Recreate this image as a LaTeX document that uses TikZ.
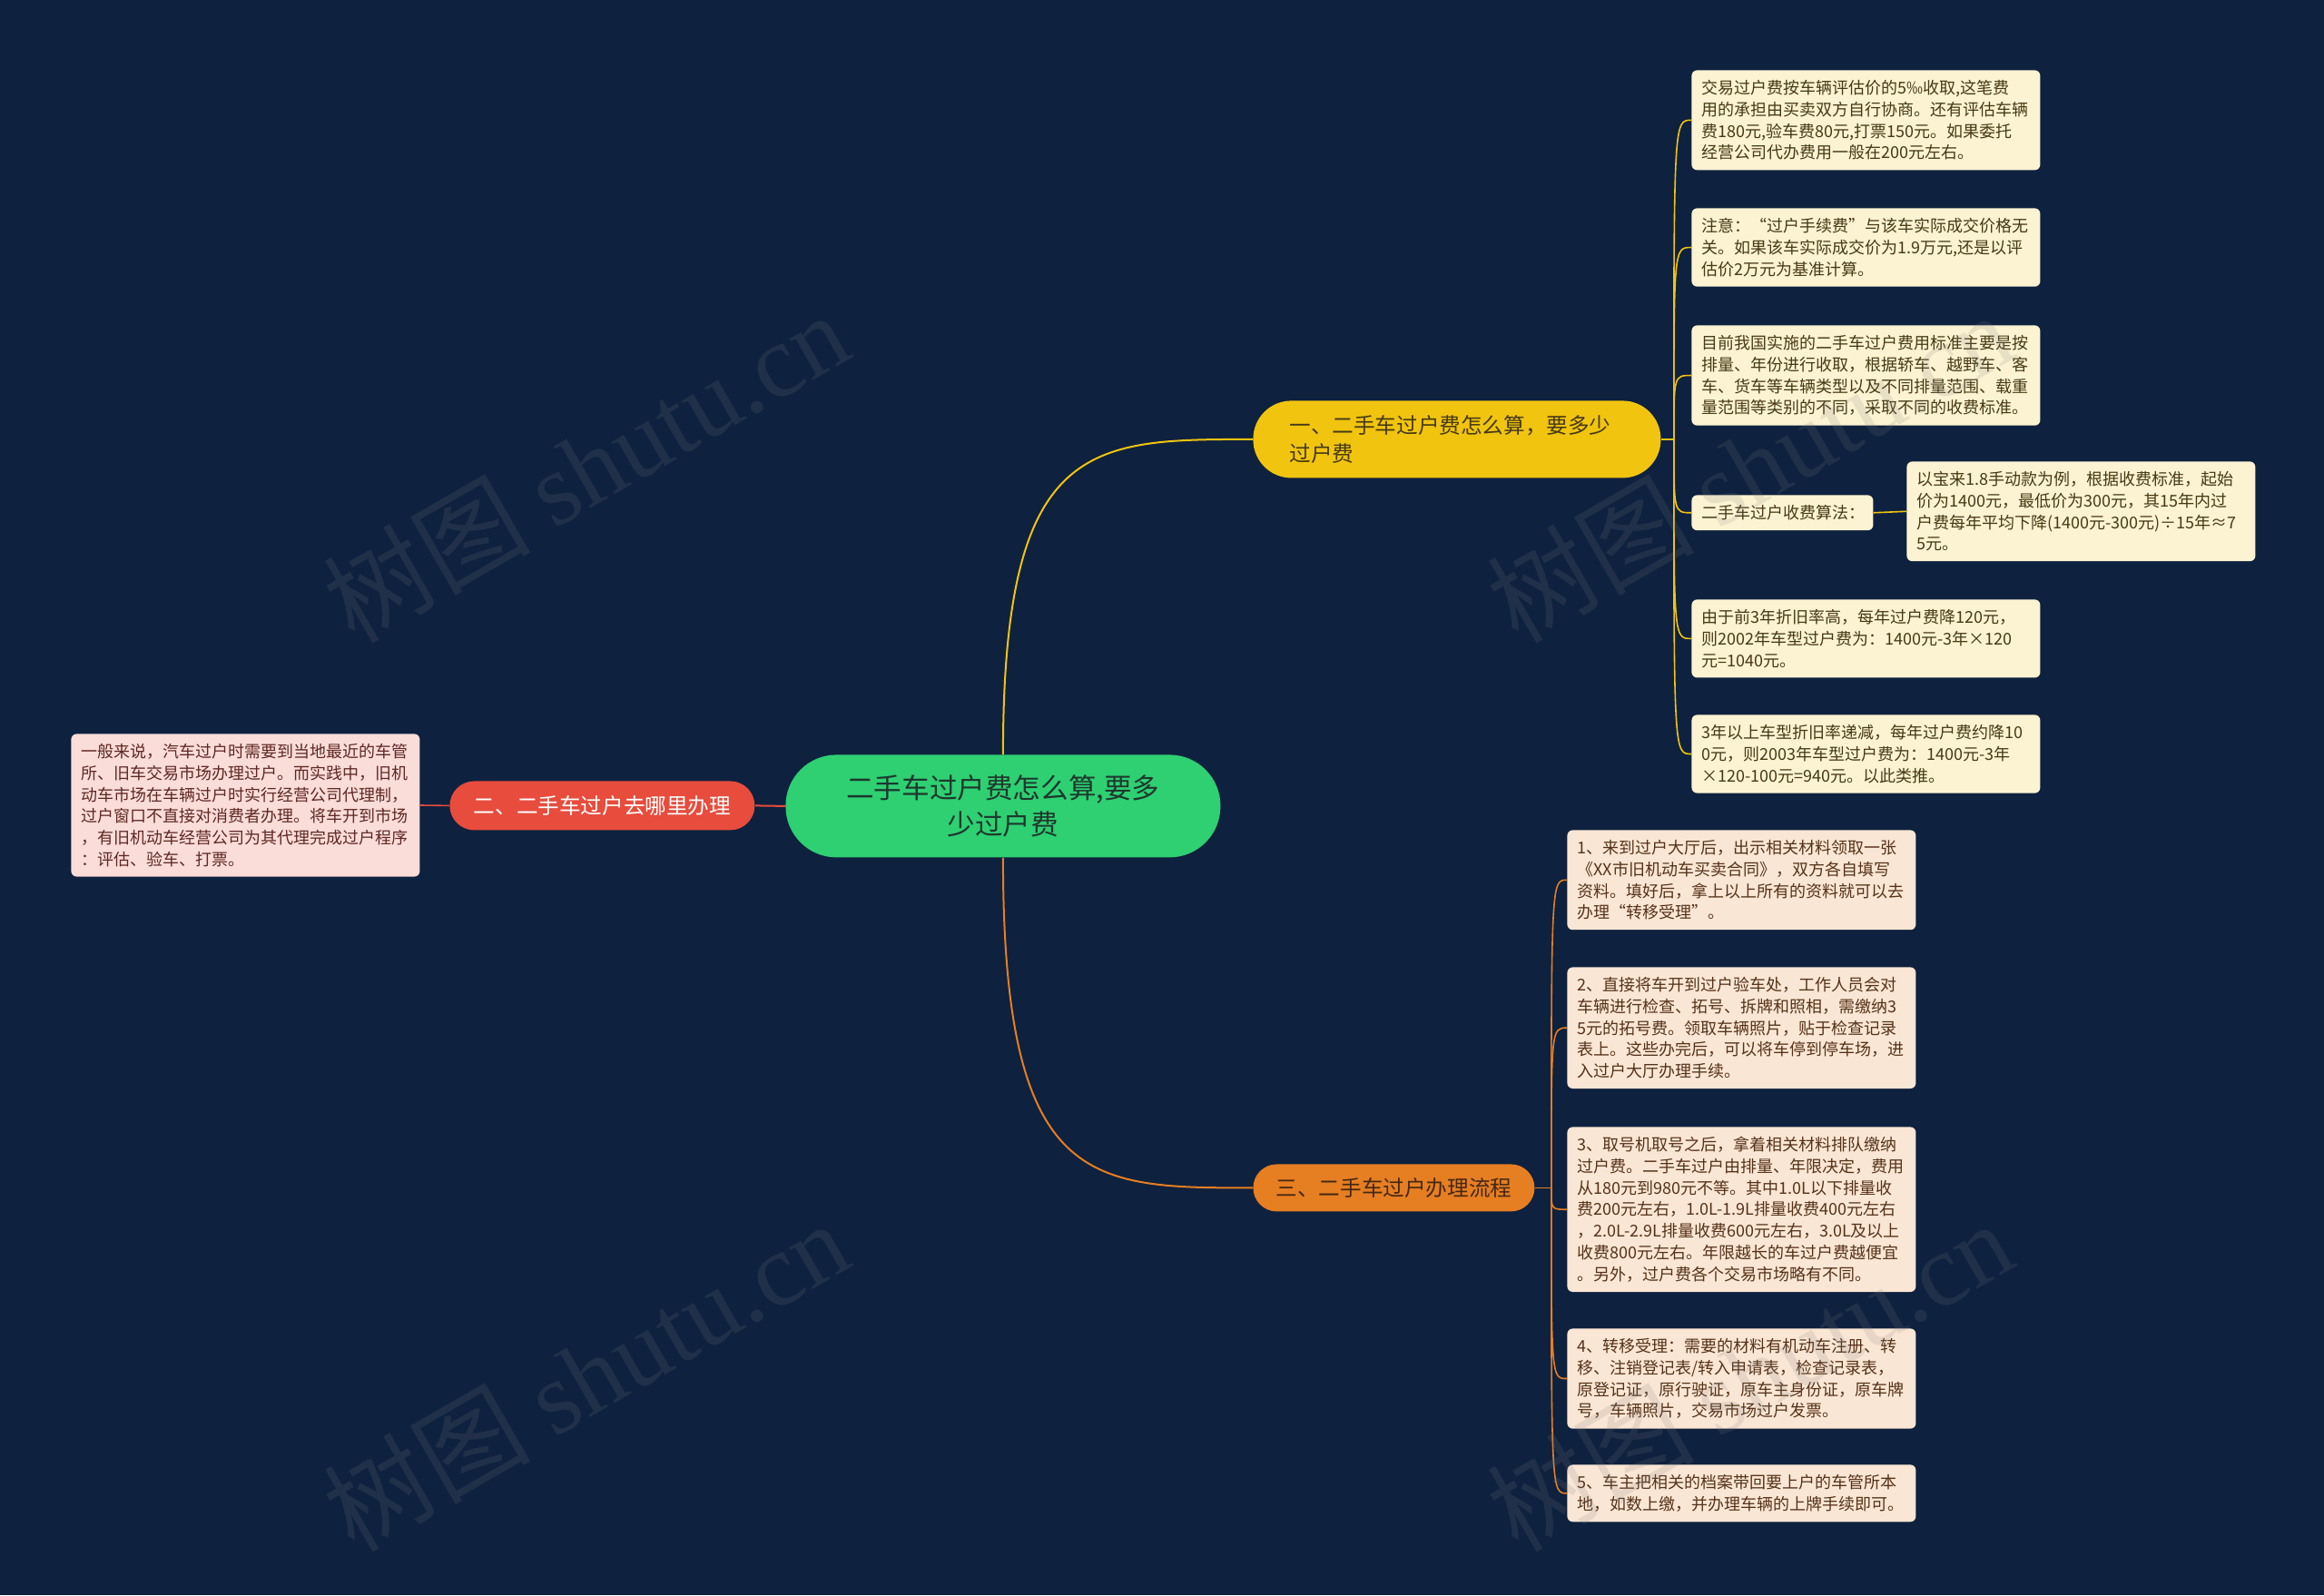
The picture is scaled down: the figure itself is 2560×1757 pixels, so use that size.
\documentclass[tikz,border=0pt]{standalone}
\usepackage{fontspec}
\setmainfont{Noto Sans CJK SC}
\newfontfamily\wmfont{Liberation Serif}

\definecolor{bgnavy}{RGB}{14,33,62}
\definecolor{rootgreen}{RGB}{46,208,114}
\definecolor{rootink}{RGB}{30,55,45}
\definecolor{ybranch}{RGB}{241,196,15}
\definecolor{yink}{RGB}{70,58,20}
\definecolor{yleaffill}{RGB}{252,243,210}
\definecolor{rbranch}{RGB}{231,76,60}
\definecolor{rleaffill}{RGB}{250,220,217}
\definecolor{rink}{RGB}{95,40,35}
\definecolor{obranch}{RGB}{230,126,34}
\definecolor{oleaffill}{RGB}{250,230,212}
\definecolor{oink}{RGB}{85,50,25}

\begin{document}
\begin{tikzpicture}[x=0.5pt, y=-0.5pt,
    root/.style={fill=rootgreen, text=rootink, rounded corners=28pt,
      minimum width=239.5pt, minimum height=56.5pt, align=center,
      font=\fontsize{15.3}{20.4}\selectfont, anchor=north west},
    branch/.style={anchor=north west, font=\fontsize{11.8}{15.5}\selectfont},
    leaf/.style={anchor=north west, rounded corners=3pt, inner xsep=5.5pt,
      inner ysep=5.5pt, text width=181pt, align=left,
      font=\fontsize{9}{11.85}\selectfont},
    yleaf/.style={leaf, fill=yleaffill, text=yink},
    oleaf/.style={leaf, fill=oleaffill, text=oink},
    rleaf/.style={leaf, fill=rleaffill, text=rink},
    ylink/.style={draw=ybranch, line width=1pt},
    olink/.style={draw=obranch, line width=1pt},
    rlink/.style={draw=rbranch, line width=1pt},
    wm/.style={text=gray, opacity=0.16, rotate=30, font=\fontsize{57}{60}\selectfont}]

\fill[bgnavy] (0,0) rectangle (2560,1757);

% centre and main branches
\node[root] (root) at (865,831) {二手车过户费怎么算,要多\\少过户费};
\node[branch, fill=ybranch, text=yink, rounded corners=21pt, inner xsep=20pt,
  inner ysep=4pt, text width=184.5pt, minimum height=42.5pt, align=left]
  (b1) at (1380,441) {一、二手车过户费怎么算，要多少\\过户费};
\node[branch, fill=rbranch, text=white, rounded corners=13.5pt,
  minimum width=168pt, minimum height=27pt] (b2) at (495,860) {二、二手车过户去哪里办理};
\node[branch, fill=obranch, text=oink!80!black, rounded corners=13pt,
  minimum width=155pt, minimum height=26pt] (b3) at (1380,1282) {三、二手车过户办理流程};

% first branch
\node[yleaf] (l1) at (1863,77) {交易过户费按车辆评估价的5‰收取,这笔费\\用的承担由买卖双方自行协商。还有评估车辆\\费180元,验车费80元,打票150元。如果委托\\经营公司代办费用一般在200元左右。};
\node[yleaf] (l2) at (1863,229) {注意：“过户手续费”与该车实际成交价格无\\关。如果该车实际成交价为1.9万元,还是以评\\估价2万元为基准计算。};
\node[yleaf] (l3) at (1863,358) {目前我国实施的二手车过户费用标准主要是按\\排量、年份进行收取，根据轿车、越野车、客\\车、货车等车辆类型以及不同排量范围、载重\\量范围等类别的不同，采取不同的收费标准。};
\node[yleaf, text width=89pt] (l4) at (1863,545) {二手车过户收费算法：};
\node[yleaf] (l4b) at (2100,508) {以宝来1.8手动款为例，根据收费标准，起始\\价为1400元，最低价为300元，其15年内过\\户费每年平均下降(1400元-300元)÷15年≈7\\5元。};
\node[yleaf] (l5) at (1863,660) {由于前3年折旧率高，每年过户费降120元，\\则2002年车型过户费为：1400元-3年×120\\元=1040元。};
\node[yleaf] (l6) at (1863,787) {3年以上车型折旧率递减，每年过户费约降10\\0元，则2003年车型过户费为：1400元-3年\\×120-100元=940元。以此类推。};

% second branch
\node[rleaf] (r1) at (78,808) {一般来说，汽车过户时需要到当地最近的车管\\所、旧车交易市场办理过户。而实践中，旧机\\动车市场在车辆过户时实行经营公司代理制，\\过户窗口不直接对消费者办理。将车开到市场\\，有旧机动车经营公司为其代理完成过户程序\\：评估、验车、打票。};

% third branch
\node[oleaf] (o1) at (1726,914) {1、来到过户大厅后，出示相关材料领取一张\\《XX市旧机动车买卖合同》，双方各自填写\\资料。填好后，拿上以上所有的资料就可以去\\办理“转移受理”。};
\node[oleaf] (o2) at (1726,1065) {2、直接将车开到过户验车处，工作人员会对\\车辆进行检查、拓号、拆牌和照相，需缴纳3\\5元的拓号费。领取车辆照片，贴于检查记录\\表上。这些办完后，可以将车停到停车场，进\\入过户大厅办理手续。};
\node[oleaf] (o3) at (1726,1241) {3、取号机取号之后，拿着相关材料排队缴纳\\过户费。二手车过户由排量、年限决定，费用\\从180元到980元不等。其中1.0L以下排量收\\费200元左右，1.0L-1.9L排量收费400元左右\\，2.0L-2.9L排量收费600元左右，3.0L及以上\\收费800元左右。年限越长的车过户费越便宜\\。另外，过户费各个交易市场略有不同。};
\node[oleaf] (o4) at (1726,1463) {4、转移受理：需要的材料有机动车注册、转\\移、注销登记表/转入申请表，检查记录表，\\原登记证，原行驶证，原车主身份证，原车牌\\号，车辆照片，交易市场过户发票。};
\node[oleaf] (o5) at (1726,1613) {5、车主把相关的档案带回要上户的车管所本\\地，如数上缴，并办理车辆的上牌手续即可。};

% connectors
\draw[ylink] (root.north) .. controls (root.north |- b1.west) and ([xshift=-90pt]b1.west) .. (b1.west);
\draw[olink] (root.south) .. controls (root.south |- b3.west) and ([xshift=-90pt]b3.west) .. (b3.west);
\draw[rlink] (root.west) -- (b2.east);
\draw[rlink, line width=0.8pt] (b2.west) -- (r1.east);

\draw[ylink, line width=0.8pt] (b1.east) -- ++(14,0) coordinate (y0);
\foreach \n in {l1,l2,l3,l4,l5,l6}
  \draw[ylink, line width=0.8pt] (y0) .. controls (y0 |- \n.west) .. (\n.west);
\draw[ylink, line width=0.8pt] (l4.east) -- (l4b.west);

\draw[olink, line width=0.8pt] (b3.east) -- ++(18,0) coordinate (o0);
\foreach \n in {o1,o2,o3,o4,o5}
  \draw[olink, line width=0.8pt] (o0) .. controls (o0 |- \n.west) .. (\n.west);

% watermark
\node[wm] (wm1) at (645,514) {树图 {\wmfont shutu.cn}};
\node[wm] (wm2) at (645,1515) {树图 {\wmfont shutu.cn}};
\node[wm] (wm3) at (1927,514) {树图 {\wmfont shutu.cn}};
\node[wm] (wm4) at (1927,1515) {树图 {\wmfont shutu.cn}};
\end{tikzpicture}
\end{document}
